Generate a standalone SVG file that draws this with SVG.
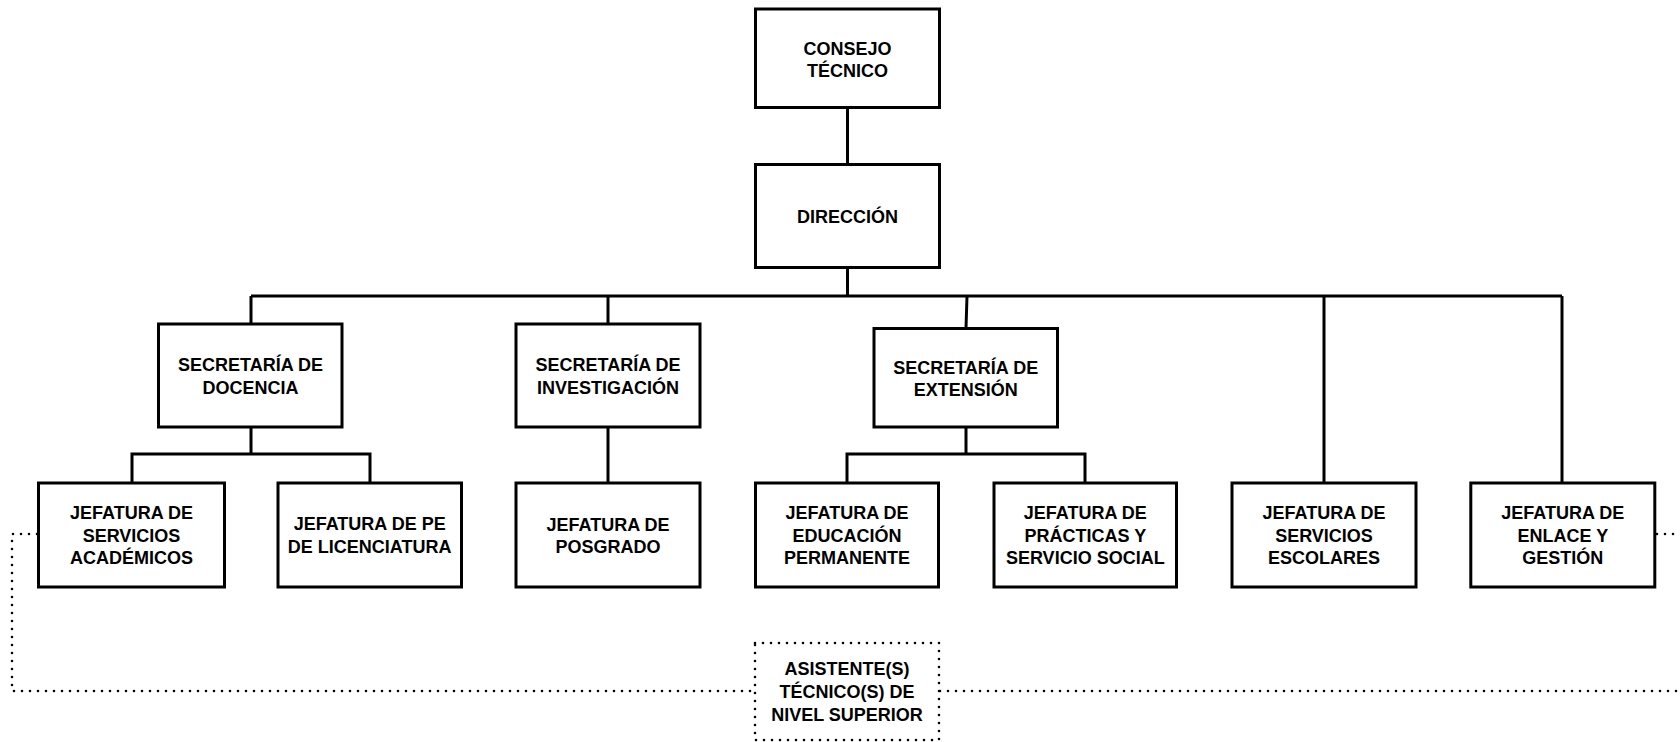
<svg xmlns="http://www.w3.org/2000/svg" width="1680" height="742" viewBox="0 0 1680 742">
<style>
.box{fill:#fff;stroke:#000;stroke-width:3}
.dbox{fill:#fff;stroke:#000;stroke-width:2.6;stroke-dasharray:0 8;stroke-linecap:round}
.ln{fill:none;stroke:#000;stroke-width:3}
.dot{fill:none;stroke:#000;stroke-width:2.6;stroke-dasharray:0 8;stroke-linecap:round}
text{font-family:"Liberation Sans",Arial,sans-serif;font-weight:bold;font-size:18px;fill:#000;text-anchor:middle}
</style>
<rect width="1680" height="742" fill="#fff"/>
<g id="connectors">
<path class="ln" d="M847.5 108 V164"/>
<path class="ln" d="M847.5 268 V296"/>
<path class="ln" d="M251 296 H1562"/>
<path class="ln" d="M251 296 V324"/>
<path class="ln" d="M608 296 V324"/>
<path class="ln" d="M967 296 L966 328"/>
<path class="ln" d="M1324 296 V483"/>
<path class="ln" d="M1562 296 V483"/>
<path class="ln" d="M251 427 V454 M132 483 V454 H370 V483"/>
<path class="ln" d="M608 427 V483"/>
<path class="ln" d="M966 427 V454 M847 483 V454 H1085 V483"/>
<path class="dot" d="M37 534 H12 V691 H754"/>
<path class="dot" d="M940 691 H1680"/>
<path class="dot" d="M1657 534 H1680"/>
</g>
<g id="consejo"><rect class="box" x="755.5" y="9" width="184" height="98.5"/><text x="847.5" y="54.5">CONSEJO</text><text x="847.5" y="77">TÉCNICO</text></g>
<g id="direccion"><rect class="box" x="755.5" y="164.5" width="184" height="103"/><text x="847.5" y="223">DIRECCIÓN</text></g>
<g id="sec-docencia"><rect class="box" x="158.5" y="324" width="183.5" height="103"/><text x="250.5" y="370.8">SECRETARÍA DE</text><text x="250.5" y="393.5">DOCENCIA</text></g>
<g id="sec-investigacion"><rect class="box" x="516" y="324" width="184" height="103"/><text x="608" y="370.8">SECRETARÍA DE</text><text x="608" y="393.5">INVESTIGACIÓN</text></g>
<g id="sec-extension"><rect class="box" x="874" y="328.5" width="183.5" height="98.5"/><text x="965.7" y="373.5">SECRETARÍA DE</text><text x="965.7" y="396.2">EXTENSIÓN</text></g>
<g id="jef-serv-acad"><rect class="box" x="38.5" y="483" width="186" height="104"/><text x="131.5" y="518.8">JEFATURA DE</text><text x="131.5" y="541.5">SERVICIOS</text><text x="131.5" y="564.2">ACADÉMICOS</text></g>
<g id="jef-pe"><rect class="box" x="278" y="483" width="183.5" height="104"/><text x="369.7" y="530.2">JEFATURA DE PE</text><text x="369.7" y="552.9">DE LICENCIATURA</text></g>
<g id="jef-posgrado"><rect class="box" x="516" y="483" width="184" height="104"/><text x="608" y="530.5">JEFATURA DE</text><text x="608" y="553.2">POSGRADO</text></g>
<g id="jef-educacion"><rect class="box" x="755.5" y="483" width="183" height="104"/><text x="847" y="518.8">JEFATURA DE</text><text x="847" y="541.5">EDUCACIÓN</text><text x="847" y="564.2">PERMANENTE</text></g>
<g id="jef-practicas"><rect class="box" x="994" y="483" width="182.5" height="104"/><text x="1085.3" y="518.8">JEFATURA DE</text><text x="1085.3" y="541.5">PRÁCTICAS Y</text><text x="1085.3" y="564.2">SERVICIO SOCIAL</text></g>
<g id="jef-serv-esc"><rect class="box" x="1232" y="483" width="184" height="104"/><text x="1324" y="518.8">JEFATURA DE</text><text x="1324" y="541.5">SERVICIOS</text><text x="1324" y="564.2">ESCOLARES</text></g>
<g id="jef-enlace"><rect class="box" x="1470.8" y="483" width="184" height="104"/><text x="1562.8" y="518.8">JEFATURA DE</text><text x="1562.8" y="541.5">ENLACE Y</text><text x="1562.8" y="564.2">GESTIÓN</text></g>
<g id="asistente"><rect class="dbox" x="755" y="643" width="184" height="97"/><text x="847" y="675.3">ASISTENTE(S)</text><text x="847" y="698">TÉCNICO(S) DE</text><text x="847" y="720.7">NIVEL SUPERIOR</text></g>
</svg>
